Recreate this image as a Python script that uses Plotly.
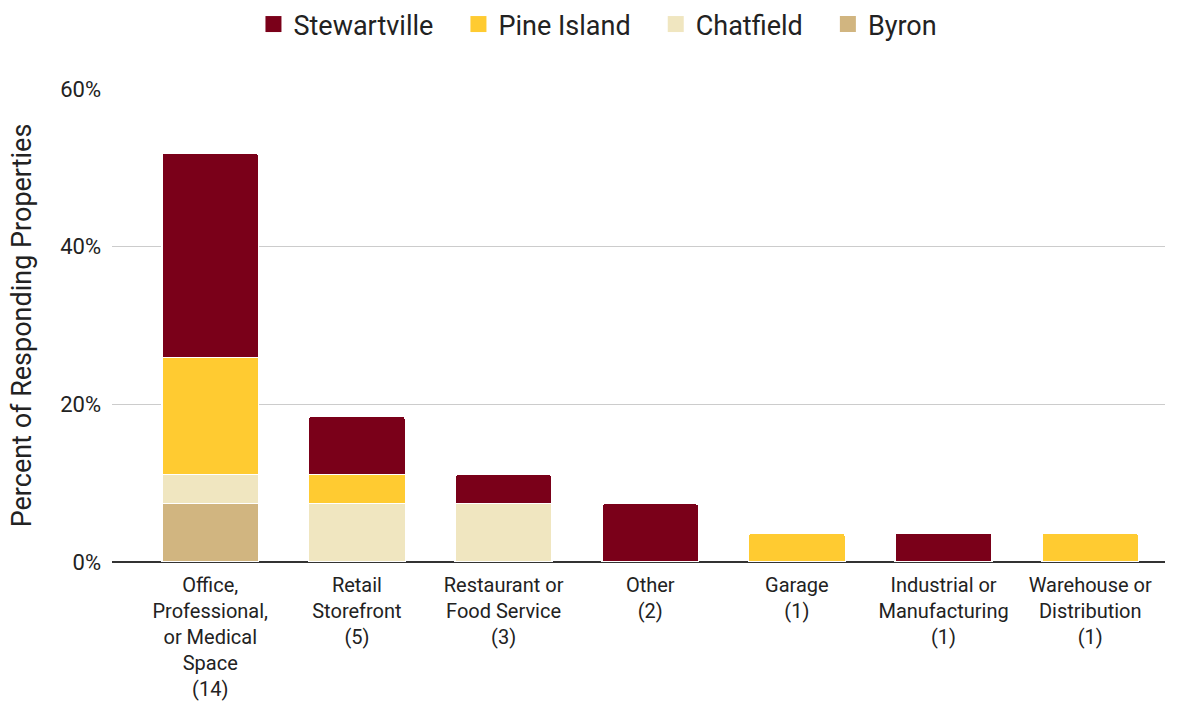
import plotly.graph_objects as go

categories = [
    "Office,<br>Professional,<br>or Medical<br>Space<br>(14)",
    "Retail<br>Storefront<br>(5)",
    "Restaurant or<br>Food Service<br>(3)",
    "Other<br>(2)",
    "Garage<br>(1)",
    "Industrial or<br>Manufacturing<br>(1)",
    "Warehouse or<br>Distribution<br>(1)",
]

# Percent of responding properties (27 total) by town
byron = [7.41, 0, 0, 0, 0, 0, 0]
chatfield = [3.70, 7.41, 7.41, 0, 0, 0, 0]
pine_island = [14.81, 3.70, 0, 0, 3.70, 0, 3.70]
stewartville = [25.93, 7.41, 3.70, 7.41, 0, 3.70, 0]

y_ticks = [0, 20, 40, 60]
y_tick_labels = ["0%", "20%", "40%", "60%"]

colors = {
    "Stewartville": "#7a0019",
    "Pine Island": "#ffcb31",
    "Chatfield": "#f0e6c0",
    "Byron": "#d1b580",
}

x = list(range(len(categories)))
fig = go.Figure()
for name, vals in [("Byron", byron), ("Chatfield", chatfield),
                   ("Pine Island", pine_island), ("Stewartville", stewartville)]:
    fig.add_trace(go.Bar(
        name=name, x=x, y=vals, width=0.66, showlegend=False,
        marker=dict(color=colors[name], line=dict(color="white", width=1.5), cornerradius=3),
    ))

# Square legend swatches (non-breaking spaces widen the gap between entries)
pad = "\u00a0" * 3
for name in ["Stewartville", "Pine Island", "Chatfield", "Byron"]:
    fig.add_trace(go.Scatter(
        name=name + (pad if name != "Byron" else ""), x=[None], y=[None], mode="markers",
        marker=dict(symbol="square", size=18, color=colors[name]),
    ))

fig.update_layout(
    barmode="stack",
    width=1180, height=702,
    margin=dict(l=112, r=15, t=89, b=140),
    paper_bgcolor="white", plot_bgcolor="white",
    font=dict(family="Roboto", color="#222222"),
    legend=dict(
        orientation="h", x=0.4615, xanchor="center", y=1.0, yanchor="top",
        yref="container", itemsizing="trace", traceorder="normal",
        font=dict(size=27, color="#222222"),
    ),
    xaxis=dict(
        tickmode="array", tickvals=x, ticktext=categories,
        range=[-0.67, 6.51], showgrid=False, ticks="", automargin=False,
        tickfont=dict(size=20, color="#222222"),
        ticklabelstandoff=9,
    ),
    yaxis=dict(
        range=[0, 60], tickvals=y_ticks, ticktext=y_tick_labels,
        gridcolor="#cccccc", gridwidth=1, automargin=False,
        zeroline=True, zerolinecolor="#333333", zerolinewidth=1.5,
        tickfont=dict(size=22, color="#222222"),
        ticklabelstandoff=10,
        title=dict(text="Percent of Responding Properties", font=dict(size=27, color="#222222"), standoff=20),
    ),
)

fig.write_html("out.html")
